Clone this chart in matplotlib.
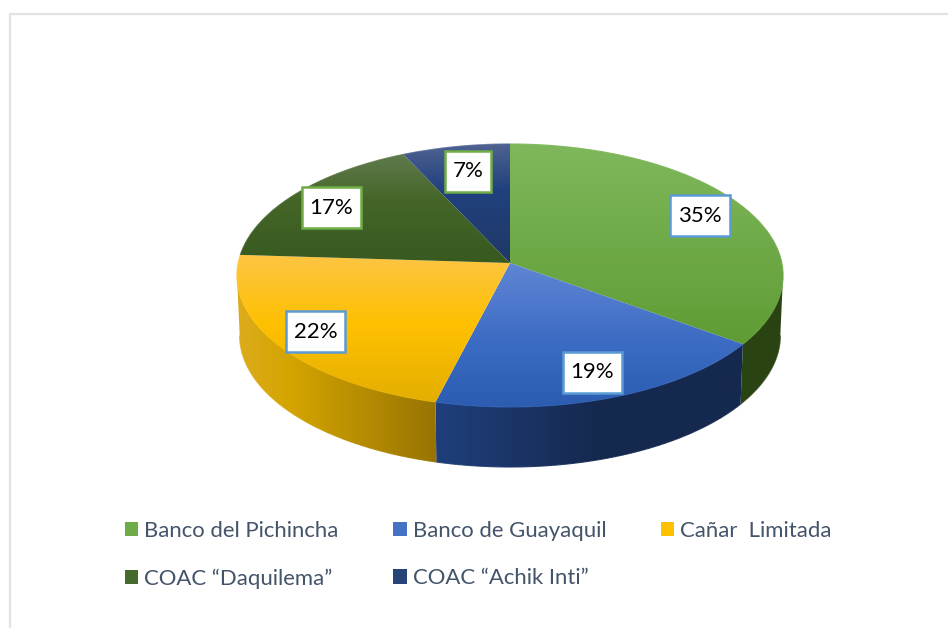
import numpy as np
import matplotlib
matplotlib.use("Agg")
import matplotlib.pyplot as plt
from matplotlib.transforms import Transform
from matplotlib.patches import Polygon, Patch
from matplotlib.path import Path
from matplotlib.collections import LineCollection
from matplotlib.colors import to_rgb

# ---- data ----
categories = ["Banco del Pichincha", "Banco de Guayaquil", "Cañar  Limitada",
              "COAC “Daquilema”", "COAC “Achik Inti”"]
values = [35, 19, 22, 17, 7]

# ---- style ----
top_stops = [
    ((145, "#7FB85C"), (345, "#5F9C34")),
    ((265, "#5F85D4"), (340, "#3D6CC4"), (410, "#2B5CB0")),
    ((258, "#FDC541"), (325, "#FFC000"), (405, "#E2AE00")),
    ((155, "#5F7A4D"), (200, "#456628"), (265, "#38591F")),
    ((144, "#4F6391"), (190, "#21407F"), (265, "#1F3864")),
]
wall_stops = [
    ((700, "#2A4312"), (790, "#2A4312")),
    ((437, "#1F3F7C"), (600, "#15294F"), (750, "#15294F")),
    ((236, "#DDAC1E"), (290, "#D4A400"), (437, "#977404")),
    ((236, "#2A4312"), (510, "#2A4312")),
    ((400, "#15294F"), (510, "#15294F")),
]
legend_colors = ["#6FAC47", "#4472C4", "#FFC000", "#456A2B", "#264478"]
box_colors = ["#5B9BD5", "#5B9BD5", "#5B9BD5", "#70AD47", "#70AD47"]
label_centres = [(700, 215.5), (592.5, 372.5), (315.5, 331.5), (331.5, 207.5), (468, 171)]

W, H = 948, 628
CX, CY, B, A, K = 510.0, 263.0, 271.8, 130.3, 0.095
DEPTH, SHRINK_X = 60.0, 0.99
# the wall shows only between the two side extremes of the ellipse
VIS_LO, VIS_HI = -180 + np.degrees(np.arcsin(K)), -np.degrees(np.arcsin(K))
X0, X1, Y0, Y1 = 225, 795, 135, 480

plt.rcParams["font.family"] = ["Lato", "DejaVu Sans"]


class Tilt(Transform):
    """Perspective view of the unit-circle pie, tipped back, in pixel-like data units."""
    input_dims = output_dims = 2
    is_separable = False
    has_inverse = False

    def __init__(self, sx=1.0, dy=0.0):
        super().__init__()
        self.sx, self.dy = sx, dy

    def transform_non_affine(self, xy):
        xy = np.asarray(xy, float)
        u, v = xy[:, 0], -xy[:, 1]
        d = 1 - K * v
        return np.column_stack([CX + self.sx * B * u / d, CY + self.dy + A * v / d])


def ramp(stops, lo, hi, n=700):
    pos = np.array([s[0] for s in stops], float)
    cols = np.array([to_rgb(s[1]) for s in stops])
    t = np.linspace(lo, hi, n)
    return np.stack([np.interp(t, pos, cols[:, i]) for i in range(3)], axis=-1)


def ring(t1, t2, n=240):
    th = np.radians(np.linspace(t1, t2, n))
    return np.column_stack([np.cos(th), np.sin(th)])


def smooth_edge(pts, colors, z):
    """Thin antialiased stroke over the image clip, following the gradient."""
    segs = np.stack([pts[:-1], pts[1:]], axis=1)
    ax.add_collection(LineCollection(segs, colors=colors, linewidths=0.8, zorder=z), autolim=False)


def fixed_box(pad_x, pad_y):
    def style(x0, y0, w, h, mutation_size):
        x, y, x2, y2 = x0 - pad_x, y0 - pad_y, x0 + w + pad_x, y0 + h + pad_y
        return Path([(x, y), (x2, y), (x2, y2), (x, y2), (x, y)], closed=True)
    return style


fig = plt.figure(figsize=(W / 100, H / 100), dpi=100, facecolor="white")
ax = fig.add_axes([0, 0, 1, 1])
wedges, _ = ax.pie(values, startangle=90, counterclock=False, radius=1.0)
ax.set_aspect("auto")
ax.set_xlim(0, W)
ax.set_ylim(H, 0)
ax.axis("off")

# side walls
top_t, low_t = Tilt(), Tilt(SHRINK_X, DEPTH)
for i, w in enumerate(wedges):
    t1, t2 = max(w.theta1, VIS_LO), min(w.theta2, VIS_HI)
    if t2 <= t1:
        continue
    arc = ring(t1, t2)
    up, low = top_t.transform_non_affine(arc), low_t.transform_non_affine(arc)
    poly = Polygon(np.vstack([up, low[::-1]]), closed=True, transform=ax.transData,
                   facecolor="none", edgecolor="none")
    ax.add_patch(poly)
    grad = ramp(wall_stops[i], X0, X1)
    im = ax.imshow(grad[None, :, :], extent=(X0, X1, Y1, Y0), aspect="auto", zorder=1,
                   interpolation="bilinear")
    im.set_clip_path(poly)
    idx_x = np.clip(((low[:-1, 0] - X0) / (X1 - X0) * 699).astype(int), 0, 699)
    smooth_edge(low, grad[idx_x], 1.1)

# top faces
for i, w in enumerate(wedges):
    w.set_transform(top_t + ax.transData)
    w.set_facecolor("none")
    w.set_edgecolor("none")
    w.set_zorder(2)
    grad = ramp(top_stops[i], Y0, Y1)
    im = ax.imshow(grad[:, None, :], extent=(X0, X1, Y1, Y0), aspect="auto", zorder=2,
                   interpolation="bilinear")
    im.set_clip_path(w)
    rim = top_t.transform_non_affine(ring(w.theta1, w.theta2))
    idx_y = np.clip(((rim[:-1, 1] - Y0) / (Y1 - Y0) * 699).astype(int), 0, 699)
    smooth_edge(rim, grad[idx_y], 2.1)

ax.set_xlim(0, W)
ax.set_ylim(H, 0)

# data labels
for v, (x, y), c in zip(values, label_centres, box_colors):
    ax.text(x, y, f"{v}%", ha="center", va="center", fontsize=16, color="black", zorder=5,
            bbox=dict(boxstyle=fixed_box(8.0, 10.5), facecolor="white", edgecolor=c, linewidth=1.8))

# chart frame (cut off by the image at right and bottom)
ax.plot([10.5, 10.5, W + 5], [H + 5, 13.5, 13.5], color="#E3E3E3", lw=1.6, zorder=0, clip_on=False)

# legend: three columns, filled column by column
order = [0, 3, 1, 4, 2]
handles = [Patch(facecolor=legend_colors[i], edgecolor="none") for i in order]
labels = [categories[i] for i in order]
ax.legend(handles, labels, ncol=3, frameon=False, loc="upper left",
          bbox_to_anchor=(118 / W, 1 - 514 / H), bbox_transform=fig.transFigure,
          fontsize=15.9, labelcolor="#44546A", handlelength=0.62, handleheight=0.62,
          handletextpad=0.27, columnspacing=2.46, labelspacing=1.25, borderpad=0.3, borderaxespad=0)

fig.savefig("out.png", dpi=100, facecolor="white")
